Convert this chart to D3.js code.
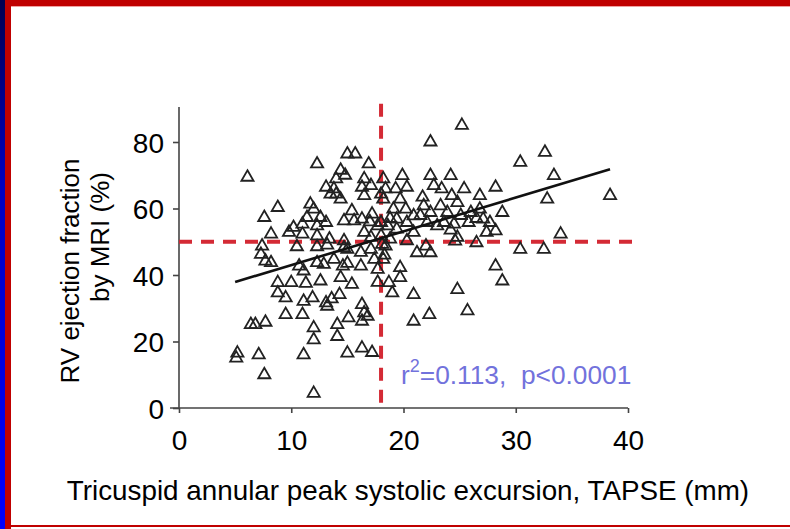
<!DOCTYPE html>
<html>
<head>
<meta charset="utf-8">
<script src="https://cdn.jsdelivr.net/npm/d3@7"></script>
<style>
  body { margin: 0; background: #fff; }
  svg { display: block; font-family: "Liberation Sans", Arial, sans-serif; }
</style>
</head>
<body>
<div id="chart"></div>
<script>
// TAPSE (mm) vs RV ejection fraction by MRI (%), one triangle per patient
const tapse = [
  6.1, 8.8, 7.6, 8.2, 7.4, 7.7, 8.2, 7.3, 8.8, 10.0, 11.3, 12.6, 14.4, 15.4, 8.8, 9.5,
  11.1, 11.9, 13.1, 13.2, 14.3, 9.5, 11.0, 6.4, 6.8, 7.7, 12.0, 12.0, 14.1, 14.1, 15.1, 16.3,
  16.5, 16.3, 16.8, 5.2, 5.1, 7.1, 7.6, 11.1, 12.0, 15.0, 16.3, 17.2, 17.7, 18.7, 19.0, 14.6,
  16.2, 17.4, 18.2, 17.7, 10.7, 11.1, 12.3, 12.9, 13.8, 10.5, 12.3, 13.2, 14.7,
  12.3, 15.0, 15.7, 16.9, 14.4, 14.8, 14.0, 13.1, 13.8, 14.4, 16.5, 16.3, 17.1, 16.5, 18.2,
  18.4, 18.2, 11.7, 12.0, 11.4, 12.6, 12.3, 13.1, 14.7, 15.4, 16.3, 17.2, 17.7, 10.2, 9.8,
  11.0, 11.0, 12.3, 14.7, 16.5, 17.1, 18.1, 18.8, 13.5, 14.0, 18.0, 15.6, 17.0, 18.0, 18.0,
  13.4, 15.0, 16.2, 17.1, 18.3, 15.0, 13.6,
  25.2, 22.4, 30.4, 32.6, 33.4, 32.8, 38.4, 34.0, 19.9, 22.4, 24.2, 28.2, 26.8, 25.4, 20.3,
  19.3, 22.7, 23.4, 21.7, 24.3, 24.8, 21.8, 19.7, 19.1, 20.2, 23.3, 23.9, 26.0, 26.8, 27.1,
  28.8, 21.5, 22.4, 19.4, 20.3, 23.6, 25.1, 25.8, 27.7, 27.4, 28.2, 18.6, 19.4, 20.9, 22.1,
  23.0, 24.5, 24.8, 26.5, 20.3, 22.0, 30.4, 32.5, 21.2, 22.4, 18.4, 28.2, 28.8, 19.7, 19.7,
  20.9, 24.8, 25.7, 22.3, 20.9, 24.6, 18.8, 20.9, 24.2, 26.5
];
const rvef = [
  69.4, 60.3, 57.3, 52.3, 48.7, 44.2, 43.7, 46.2, 37.7, 37.7, 37.5, 38.2, 39.2, 37.2, 34.6, 33.1,
  32.1, 33.1, 31.6, 30.6, 34.1, 28.1, 28.1, 25.1, 25.1, 25.8, 24.1, 20.5, 25.1, 21.5, 27.1, 31.1,
  28.6, 26.1, 27.6, 16.5, 15.0, 16.0, 10.0, 16.0, 4.4, 16.5, 18.0, 16.7, 37.8, 37.7, 34.6, 42.7,
  42.7, 44.7, 44.7, 41.7, 42.7, 41.2, 43.7, 43.2, 44.7, 48.5, 48.5, 49.0, 48.2,
  73.4, 76.4, 76.4, 73.4, 71.5, 70.0, 68.9, 66.4, 65.9, 62.8, 68.9, 66.4, 66.9, 63.9, 68.9,
  65.9, 62.8, 61.3, 59.8, 57.3, 57.3, 54.8, 55.8, 56.3, 59.3, 56.8, 58.3, 54.8, 54.3, 52.8,
  55.3, 52.3, 51.8, 50.3, 52.8, 51.3, 49.2, 50.8, 64.3, 64.3, 64.3, 56.3, 56.0, 55.8, 51.8,
  50.8, 47.7, 46.8, 47.7, 46.0, 43.5, 32.8,
  85.0, 80.0, 73.9, 76.9, 69.9, 62.8, 63.9, 52.3, 69.9, 69.9, 69.9, 66.4, 63.9, 65.9, 66.4,
  65.9, 66.9, 65.9, 63.4, 63.9, 61.8, 60.8, 62.8, 59.8, 59.8, 60.8, 58.8, 58.8, 59.8, 56.8,
  58.8, 57.9, 58.8, 56.8, 55.8, 55.8, 57.9, 55.8, 55.8, 52.8, 53.3, 54.8, 53.8, 52.8, 55.8,
  54.8, 55.3, 51.3, 49.7, 50.3, 48.7, 47.7, 47.7, 46.7, 46.7, 48.7, 42.7, 38.2, 42.2, 39.2,
  34.1, 35.6, 29.2, 28.1, 26.1, 50.2, 57.0, 57.8, 53.5, 57.0
];

const xTicks = [0, 10, 20, 30, 40];
const yTicks = [0, 20, 40, 60, 80];
const fitLine = [[5.0, 37.9], [38.4, 71.8]];   // regression line end points
const cutoffs = { tapse: 18, rvef: 50 };
const statsText = ['r', '2', '=0.113,\u00a0\u00a0p<0.0001'];

const width = 790, height = 529;

const svg = d3.select('#chart').append('svg')
  .attr('width', width)
  .attr('height', height);

// slide frame
const grad = svg.append('defs').append('linearGradient')
  .attr('id', 'edge').attr('x1', 0).attr('y1', 0).attr('x2', 0).attr('y2', 1);
grad.append('stop').attr('offset', '0%').attr('stop-color', '#000050');
grad.append('stop').attr('offset', '35%').attr('stop-color', '#0000c0');
grad.append('stop').attr('offset', '100%').attr('stop-color', '#0000ff');

svg.append('rect').attr('x', 0).attr('y', 0).attr('width', width).attr('height', 6).attr('fill', '#c00000');
svg.append('rect').attr('x', 0).attr('y', 6).attr('width', width).attr('height', 1).attr('fill', '#f0a0a0');
svg.append('rect').attr('x', 0).attr('y', 0).attr('width', 5).attr('height', height).attr('fill', 'url(#edge)');
svg.append('rect').attr('x', 5).attr('y', 0).attr('width', 6).attr('height', height).attr('fill', '#c00000');
svg.append('rect').attr('x', 11).attr('y', 525).attr('width', width - 11).attr('height', 2).attr('fill', '#c00000');

const x = d3.scaleLinear().domain([0, 40]).range([179, 628]);
const y = d3.scaleLinear().domain([0, 80]).range([408, 142]);

// axes
const xAxis = d3.axisBottom(x).tickValues(xTicks).tickSize(5).tickSizeOuter(0);
const yAxis = d3.axisLeft(y).tickValues(yTicks).tickSize(6).tickSizeOuter(0);

const gx = svg.append('g')
  .attr('class', 'x axis')
  .attr('transform', 'translate(0,' + y(0) + ')')
  .call(xAxis);
gx.select('.domain').remove();
gx.append('line')
  .attr('x1', x(-0.8)).attr('x2', x(40)).attr('y1', 0).attr('y2', 0);

const gy = svg.append('g')
  .attr('class', 'y axis')
  .attr('transform', 'translate(' + x(0) + ',0)')
  .call(yAxis);
gy.select('.domain').remove();
gy.append('line')
  .attr('x1', 0).attr('x2', 0).attr('y1', y(0)).attr('y2', y(90.5));

svg.selectAll('.axis line').attr('stroke', '#444').attr('stroke-width', 1.6);
svg.selectAll('.axis text')
  .attr('fill', '#000')
  .style('font-size', '28px')
  .style('font-family', '"Liberation Sans", Arial, sans-serif');
gx.selectAll('text').attr('dy', null).attr('y', 42);
gy.selectAll('text').attr('x', -15).attr('dy', '0.36em');

// cut-off lines
svg.append('line')
  .attr('x1', x(cutoffs.tapse)).attr('x2', x(cutoffs.tapse))
  .attr('y1', y(91.5)).attr('y2', y(0))
  .style('stroke', '#d42a35').style('stroke-width', '4px').style('stroke-dasharray', '13,9');
svg.append('line')
  .attr('x1', x(0)).attr('x2', x(40.4))
  .attr('y1', y(cutoffs.rvef)).attr('y2', y(cutoffs.rvef))
  .style('stroke', '#d42a35').style('stroke-width', '4px').style('stroke-dasharray', '13,9');

// points
const points = tapse.map((t, i) => ({ t, ef: rvef[i] }));
const tri = d3.symbol().type(d3.symbolTriangle).size(64);
svg.append('g').selectAll('path')
  .data(points)
  .enter().append('path')
    .attr('d', tri)
    .attr('transform', (d) => 'translate(' + x(d.t) + ',' + y(d.ef) + ')')
    .style('fill', 'none')
    .style('stroke', '#222')
    .style('stroke-width', '1.8px');

// regression line
svg.append('path')
  .attr('d', d3.line().x((d) => x(d[0])).y((d) => y(d[1]))(fitLine))
  .style('fill', 'none')
  .style('stroke', '#111')
  .style('stroke-width', '2.6px');

// stats
const st = svg.append('text')
  .attr('x', 401).attr('y', 384)
  .attr('fill', '#7272dc')
  .style('font-size', '26.3px');
st.append('tspan').text(statsText[0]);
st.append('tspan').attr('dy', -12).style('font-size', '18px').text(statsText[1]);
st.append('tspan').attr('dy', 12).text(statsText[2]);

// axis titles
svg.append('text')
  .attr('x', 408).attr('y', 500)
  .attr('text-anchor', 'middle')
  .style('font-size', '27.8px')
  .text('Tricuspid annular peak systolic excursion, TAPSE (mm)');

svg.append('text')
  .attr('transform', 'translate(79,271) rotate(-90)')
  .attr('text-anchor', 'middle')
  .style('font-size', '26px')
  .text('RV ejection fraction');
svg.append('text')
  .attr('transform', 'translate(109,237) rotate(-90)')
  .attr('text-anchor', 'middle')
  .style('font-size', '26px')
  .text('by MRI (%)');
</script>
</body>
</html>
